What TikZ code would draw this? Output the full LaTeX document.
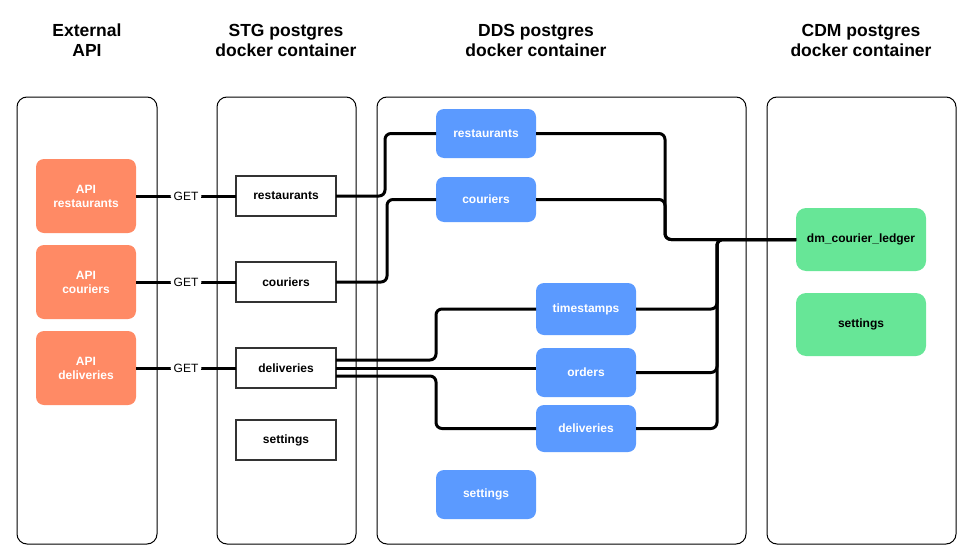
\documentclass[tikz,border=0pt]{standalone}
\usepackage{fontspec}
\setmainfont{Liberation Sans}
\usetikzlibrary{positioning}
\definecolor{apiorange}{RGB}{255,138,101}
\definecolor{ddsblue}{RGB}{91,154,255}
\definecolor{cdmgreen}{RGB}{103,230,151}
\tikzset{
x=1pt, y=-1pt, % one unit is one pixel of the sketch, y runs downwards
every node/.style={inner sep=0pt, outer sep=0pt},
container/.style={draw, line width=1pt, rounded corners=10pt, minimum width=#1, minimum height=447pt}, % the docker containers
header/.style={font=\bfseries\fontsize{17.5}{20}\selectfont, align=center}, % titles over the containers
api/.style={fill=apiorange, text=white, rounded corners=8pt, minimum width=100pt, minimum height=74pt, align=center, font=\bfseries\fontsize{12}{14}\selectfont},
stg/.style={draw=black!80, line width=1.3pt, minimum width=100pt, minimum height=40pt, font=\bfseries\fontsize{12}{14}\selectfont},
dds/.style={fill=ddsblue, text=white, rounded corners=8pt, minimum width=100pt, minimum height=#1, font=\bfseries\fontsize{12}{14}\selectfont},
dds/.default=49pt,
cdm/.style={fill=cdmgreen, rounded corners=10pt, minimum width=130pt, minimum height=63pt, font=\bfseries\fontsize{12}{14}\selectfont},
link/.style={line width=3pt, rounded corners=6pt}, % the thick connectors
getlabel/.style={fill=white, inner xsep=3pt, inner ysep=1pt, font=\fontsize{12}{14}\selectfont}, % sets the text on the GET lines
}

\begin{document}
\begin{tikzpicture}
\useasboundingbox (0,0) rectangle (972,554);

% containers and their titles
\node[container=140pt] (extBox) at (87,320.5) {};
\node[container=139pt, right=60pt of extBox] (stgBox) {};
\node[container=369pt, right=21pt of stgBox] (ddsBox) {};
\node[container=189pt, right=21pt of ddsBox] (cdmBox) {};
\node[header] (extHead) at (87,40) {External\\API};
\node[header] (stgHead) at (286,40) {STG postgres\\docker container};
\node[header] (ddsHead) at (536,40) {DDS postgres\\docker container};
\node[header] (cdmHead) at (861,40) {CDM postgres\\docker container};

% external API
\node[api] (apiRest) at (86,196) {API\\restaurants};
\node[api, below=12pt of apiRest] (apiCour) {API\\couriers};
\node[api, below=12pt of apiCour] (apiDeli) {API\\deliveries};

% STG tables
\node[stg, right=100pt of apiRest] (stgRest) {restaurants};
\node[stg, right=100pt of apiCour] (stgCour) {couriers};
\node[stg, right=100pt of apiDeli] (stgDeli) {deliveries};
\node[stg, below=32pt of stgDeli] (stgSett) {settings};

% DDS tables
\node[dds] (ddsRest) at (486,133.5) {restaurants};
\node[dds=45pt, below=19pt of ddsRest] (ddsCour) {couriers};
\node[dds=52pt] (ddsTime) at (586,309) {timestamps};
\node[dds, below=13pt of ddsTime] (ddsOrd) {orders};
\node[dds=47pt, below=8pt of ddsOrd] (ddsDeli) {deliveries};
\node[dds] (ddsSett) at (486,494.5) {settings};

% CDM tables
\node[cdm] (cdmLedger) at (861,239.5) {dm\_courier\_ledger};
\node[cdm, below=22pt of cdmLedger] (cdmSett) {settings};

\draw[link] (apiRest) -- node[getlabel]{GET} (stgRest);
\draw[link] (apiCour) -- node[getlabel]{GET} (stgCour);
\draw[link] (apiDeli) -- node[getlabel]{GET} (stgDeli);

\draw[link] (stgRest.east) -- ++(49,0) |- (ddsRest.west);
\draw[link] (stgCour.east) -- ++(51,0) |- (ddsCour.west);
\draw[link] ([yshift=8pt]stgDeli.east) -- ++(100,0) |- (ddsTime.west);
\draw[link] (stgDeli.east) -- (stgDeli.east -| ddsOrd.west);
\draw[link] ([yshift=-8pt]stgDeli.east) -- ++(100,0) |- (ddsDeli.west);

\draw[link] (ddsRest.east) -- ++(129,0) |- (cdmLedger.west);
\draw[link] (ddsCour.east) -- ++(129,0) |- (cdmLedger.west);
\draw[link] (ddsTime.east) -- ++(81,0) |- (cdmLedger.west);
\draw[link] (ddsOrd.east) -- ++(81,0) |- (cdmLedger.west);
\draw[link] (ddsDeli.east) -- ++(81,0) |- (cdmLedger.west);
\end{tikzpicture}
\end{document}
